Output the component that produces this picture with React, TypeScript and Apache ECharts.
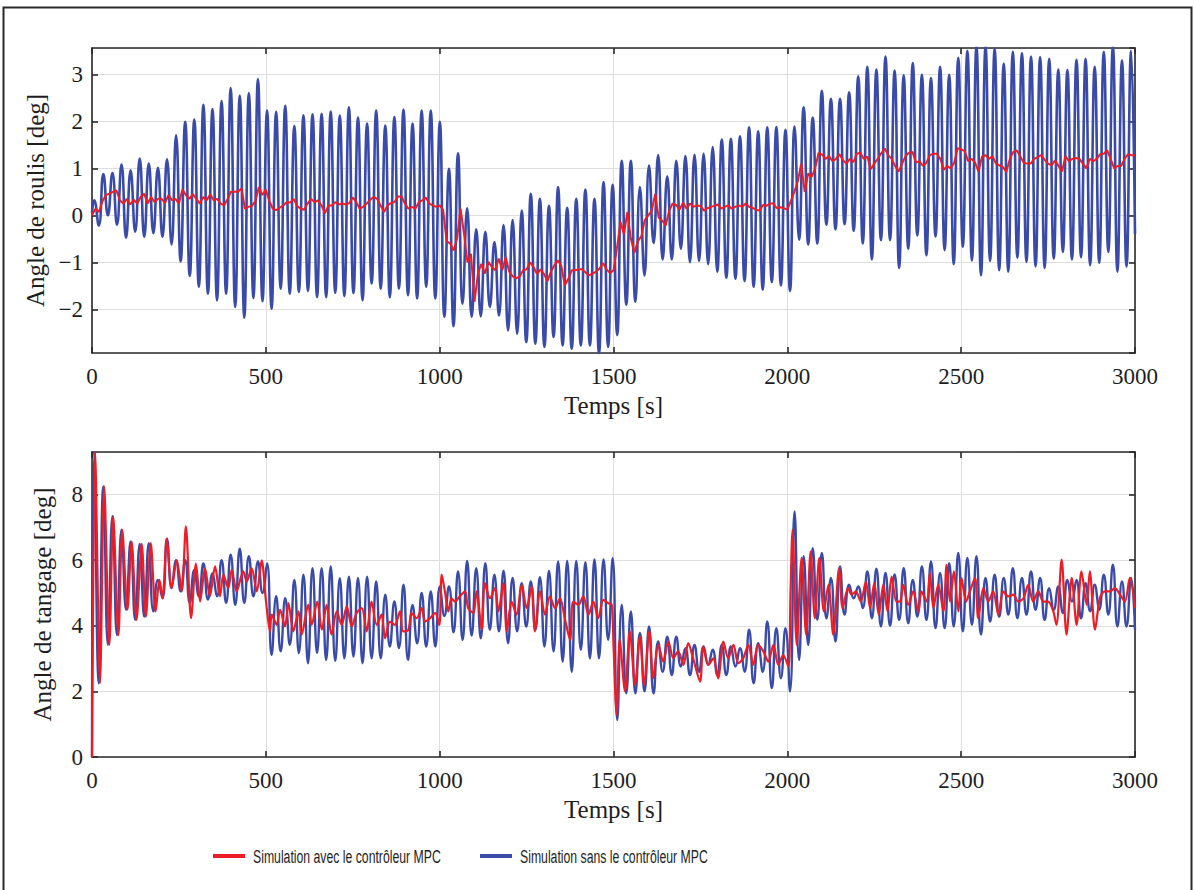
import React, { useEffect, useRef } from "react";
import * as echarts from "echarts";

// ---------- axis ranges / ticks ----------
const TIME_RANGE = [0, 3000];
const TIME_STEP = 500;
const ROLL_RANGE = [-2.93, 3.56];
const PITCH_RANGE = [0, 9.3];
const PITCH_STEP = 2;

const LEGEND_MPC = "Simulation avec le contrôleur MPC";
const LEGEND_NO_MPC = "Simulation sans le contrôleur MPC";

// ---------- roll without MPC: successive extrema (peak, trough, peak, ...) ----------
// extrema are spaced by half an oscillation period
const EXTREMA_HALF_PERIOD = 13.08; // s
const EXTREMA_FIRST_T = 6.44; // s
const rollNoMpcStart = 0.05;
const rollNoMpcEnd = -0.4;
const rollNoMpcExtrema = [
  0.32, -0.22,
  0.88, 0.0, 0.9, -0.2, 1.08, -0.48, 0.96, -0.35, 1.21, -0.46, 1.1, -0.38, 1.01, -0.46,
  1.19, -0.62, 1.7, -0.98, 1.99, -1.29, 2.04, -1.52, 2.35, -1.67, 2.26, -1.81, 2.43, -1.67,
  2.71, -1.95, 2.55, -2.18, 2.6, -1.76, 2.9, -1.83, 2.23, -1.99, 2.2, -1.56, 2.33, -1.67,
  1.9, -1.63, 2.13, -1.61, 2.15, -1.74, 2.16, -1.74, 2.21, -1.65, 2.12, -1.72, 2.3, -1.66,
  2.08, -1.81, 1.95, -1.45, 2.23, -1.56, 1.91, -1.74, 2.09, -1.56, 2.25, -1.7, 1.95, -1.77,
  2.23, -1.52, 2.23, -1.77, 1.99, -2.16, 0.99, -2.36, 1.32, -1.88, 0.15, -2.16, -0.3, -2.15,
  -0.35, -1.95, -0.57, -2.13, -0.21, -2.45, -0.1, -2.52, 0.1, -2.7, 0.46, -2.73, 0.35, -2.8,
  0.2, -2.59, 0.6, -2.77, 0.16, -2.84, 0.35, -2.77, 0.55, -2.77, 0.35, -2.94, 0.71, -2.8,
  0.65, -2.55, 1.16, -1.9, 1.16, -1.84, 0.6, -1.28, 1.06, -0.59, 1.28, -0.94, 0.83, -0.94,
  1.16, -0.71, 1.26, -1.0, 1.29, -0.97, 1.31, -1.04, 1.45, -1.2, 1.61, -1.33, 1.63, -1.35,
  1.68, -1.4, 1.87, -1.52, 1.79, -1.58, 1.87, -1.42, 1.88, -1.49, 1.82, -1.61, 1.89, -0.52,
  2.3, -0.62, 2.08, -0.6, 2.65, -0.2, 2.48, -0.3, 2.48, -0.19, 2.62, -0.33, 2.96, -0.6,
  3.16, -0.94, 3.1, -0.53, 3.38, -0.53, 3.08, -1.12, 2.98, -0.71, 3.24, -0.43, 2.99, -0.85,
  2.92, -0.45, 3.16, -0.74, 2.99, -1.04, 3.35, -0.67, 3.5, -0.96, 3.6, -1.28, 3.6, -0.97,
  3.55, -1.17, 3.23, -1.2, 3.48, -0.9, 3.45, -0.99, 3.38, -1.09, 3.37, -1.12, 3.33, -0.92,
  3.1, -0.78, 3.09, -0.94, 3.31, -0.89, 3.33, -1.06, 3.16, -1.01, 3.48, -0.78, 3.6, -1.2,
  3.3, -1.09, 3.5,
];

// ---------- roll with MPC: one value every 10 s from 0 to 3000 s ----------
const ROLL_MPC_STEP = 10; // s
const rollMpc = [
  0, 0.14, 0.07, 0.3, 0.43, 0.46, 0.5, 0.53, 0.32, 0.25,
  0.35, 0.23, 0.33, 0.25, 0.39, 0.46, 0.25, 0.39, 0.28, 0.35,
  0.35, 0.26, 0.43, 0.32, 0.35, 0.25, 0.55, 0.43, 0.35, 0.45,
  0.35, 0.25, 0.39, 0.32, 0.45, 0.32, 0.35, 0.25, 0.21, 0.35,
  0.5, 0.5, 0.5, 0.57, 0.14, 0.18, 0.2, 0.3, 0.6, 0.43,
  0.55, 0.3, 0.14, 0.11, 0.16, 0.21, 0.28, 0.27, 0.35, 0.2,
  0.14, 0.12, 0.25, 0.35, 0.28, 0.32, 0.21, 0.04, 0.21, 0.21,
  0.28, 0.23, 0.25, 0.23, 0.26, 0.38, 0.28, 0.14,
  0.18, 0.25, 0.33, 0.39, 0.35, 0.21, 0.07, 0.21, 0.26, 0.28,
  0.4, 0.4, 0.25, 0.14, 0.18, 0.14, 0.28, 0.32, 0.38, 0.25,
  0.21, 0.18, 0.21, 0.11, -0.55, -0.6, -0.75, -0.5, 0.14, -0.39,
  -1.0, -0.82, -1.84, -1.24, -1.03, -1.24, -0.99, -1.1, -1.17, -0.92,
  -1.17, -0.89, -1.2, -1.3, -1.34, -1.3, -1.17, -1.15, -1.0, -1.1,
  -1.25, -1.15, -1.25, -1.4, -1.2, -1.06, -0.96, -1.08, -1.49, -1.35,
  -1.17, -1.17, -1.15, -1.15, -1.22, -1.28, -1.24, -1.2, -1.13, -1.02,
  -1.15, -1.23, -1.17, -0.7, -0.14, -0.4, 0.07,
  -0.5, -0.8, -0.55, -0.45, -0.1, 0.0, 0.1, 0.45, -0.05, -0.11,
  -0.22, 0.1, 0.25, 0.22, 0.12, 0.27, 0.14, 0.25, 0.18, 0.21,
  0.2, 0.1, 0.15, 0.18, 0.2, 0.23, 0.14, 0.18, 0.21, 0.14,
  0.18, 0.21, 0.18, 0.25, 0.18, 0.16, 0.12, 0.1, 0.22, 0.2,
  0.25, 0.25, 0.15, 0.17, 0.15, 0.12, 0.3, 0.5, 0.72, 1.1,
  0.5, 0.89, 0.82, 1.0, 1.33, 1.29, 1.2, 1.26, 1.15, 1.2,
  1.3, 1.17, 1.1, 1.2, 1.13, 1.31, 1.33, 1.2, 1.25, 0.98,
  1.1, 1.2, 1.32, 1.42, 1.28, 1.2, 1.05,
  0.93, 1.1, 1.26, 1.33, 1.35, 1.12, 1.15, 1.05, 1.12, 1.28,
  1.31, 1.31, 1.2, 0.97, 1.05, 1.0, 1.12, 1.43, 1.4, 1.37,
  1.15, 1.2, 1.12, 0.93, 1.25, 1.28, 1.2, 1.26, 1.1, 1.06,
  1.03, 0.92, 1.2, 1.35, 1.38, 1.25, 1.12, 1.1, 1.1, 1.2,
  1.24, 1.28, 1.18, 1.1, 1.06, 1.17, 1.05, 0.93, 1.26, 1.15,
  1.2, 1.22, 1.2, 1.1, 1.0, 1.2, 1.15, 1.2, 1.3, 1.31,
  1.38, 1.2, 1.0, 1.05, 1.05, 1.2, 1.3, 1.28, 1.28,
];

// ---------- pitch without MPC: successive extrema (same spacing) ----------
const pitchNoMpcStart = 0;
const pitchNoMpcEnd = 3.88;
const pitchNoMpcExtrema = [
  9.3, 2.25,
  8.25, 3.42, 7.34, 3.72, 6.93, 4.49, 6.57, 4.18, 6.5, 4.28, 6.52, 4.44, 5.4, 4.84,
  6.66, 5.15, 6.0, 5.05, 6.0, 4.7, 5.7, 4.9, 5.9, 4.8, 5.6, 4.9, 6.0, 4.7,
  6.17, 4.64, 6.35, 4.7, 6.12, 4.9, 5.96, 5.0, 5.9, 3.11, 4.9, 3.22, 4.84, 3.42,
  5.4, 3.17, 5.56, 2.86, 5.76, 3.17, 5.76, 2.96, 5.81, 2.93, 5.45, 3.01, 5.5, 3.06,
  5.46, 2.86, 5.5, 3.01, 5.35, 3.01, 4.95, 3.37, 4.74, 3.32, 5.25, 2.96, 4.64, 3.47,
  5.0, 3.37, 5.05, 3.37, 5.2, 4.3, 5.2, 3.8, 5.66, 3.57, 5.98, 3.7, 5.76, 3.62,
  5.91, 3.88, 5.56, 3.83, 5.68, 3.47, 5.46, 3.83, 5.3, 3.98, 5.35, 3.88, 5.48, 3.37,
  5.68, 3.22, 5.96, 2.91, 5.98, 2.6, 5.98, 3.27, 5.94, 3.01, 6.02, 3.01, 6.02, 3.57,
  6.07, 1.13, 4.64, 1.94, 4.44, 1.94, 3.78, 2.0, 3.98, 1.94, 3.52, 2.6, 3.67, 2.5,
  3.67, 2.76, 3.32, 2.5, 3.42, 2.6, 3.37, 2.81, 3.27, 2.5, 3.42, 2.5, 3.37, 2.76,
  3.32, 2.6, 3.88, 2.25, 3.47, 2.6, 4.13, 2.1, 3.93, 2.4, 3.93, 2.0, 7.49, 2.96,
  6.12, 3.42, 6.37, 4.18, 6.22, 4.23, 5.46, 3.52, 5.81, 4.34, 5.25, 4.84, 5.2, 4.54,
  5.66, 4.23, 5.74, 3.98, 5.61, 4.0, 5.57, 4.18, 5.76, 4.08, 5.4, 4.28, 5.81, 4.18,
  5.96, 3.93, 5.61, 3.93, 5.91, 3.98, 6.22, 3.83, 6.07, 4.03, 6.12, 3.73, 5.46, 4.13,
  5.56, 4.28, 5.46, 4.34, 5.76, 4.23, 5.46, 4.34, 5.66, 4.49, 5.46, 4.18, 5.15, 4.49,
  5.2, 4.39, 5.4, 4.74, 5.4, 4.23, 5.3, 4.44, 5.25, 4.49, 5.56, 4.34, 5.86, 3.98,
  5.35, 3.98, 5.46,
];

// ---------- pitch with MPC: [time s, angle deg] ----------
const pitchMpc: [number, number][] = [
  [0, 0], [9, 9.3], [23, 2.25], [35, 8.25], [50, 3.42], [61, 7.34], [76, 3.72], [87, 6.93],
  [102, 4.49], [114, 6.57], [128, 4.18], [143, 6.5], [155, 4.28], [169, 6.52], [183, 4.44],
  [194, 5.4], [203, 4.84], [215, 6.66], [229, 5.15], [244, 6.0], [258, 5.05], [270, 7.03],
  [285, 4.23], [299, 5.9], [311, 4.74], [325, 5.76], [339, 4.9], [354, 5.81], [368, 4.9],
  [378, 5.56], [392, 5.15], [402, 5.71], [416, 5.05], [435, 5.66], [445, 5.35], [459, 5.76],
  [474, 5.05], [488, 6.0], [500, 4.8], [512, 3.83], [517, 4.34], [531, 4.03], [541, 4.49],
  [555, 3.98], [565, 4.69], [579, 3.83], [594, 4.44], [603, 3.73], [622, 4.64], [632, 4.03],
  [648, 4.74], [661, 3.88], [675, 4.64], [689, 3.73], [704, 4.44], [718, 4.03], [733, 4.59],
  [747, 3.98], [761, 4.39], [776, 4.54], [790, 3.83], [804, 4.74], [819, 4.03], [833, 4.34],
  [843, 3.62], [857, 4.13], [871, 4.03], [886, 4.44], [895, 3.83], [910, 3.88], [919, 4.39],
  [934, 4.23], [948, 4.54], [958, 4.13], [972, 4.23], [987, 4.39], [999, 4.03], [1006, 5.56],
  [1015, 5.05], [1025, 4.44], [1034, 4.84], [1044, 4.74], [1058, 4.9], [1073, 5.05],
  [1082, 4.54], [1097, 4.39], [1106, 5.05], [1121, 3.88], [1130, 5.3], [1145, 4.84],
  [1159, 5.15], [1169, 4.44], [1183, 5.3], [1193, 3.83], [1207, 4.74], [1221, 4.34],
  [1236, 5.25], [1250, 4.54], [1265, 5.2], [1274, 3.83], [1289, 5.05], [1303, 4.34],
  [1317, 4.9], [1332, 4.54], [1346, 4.84], [1360, 4.23], [1375, 3.57], [1384, 4.74],
  [1399, 4.64], [1413, 4.9], [1428, 4.34], [1442, 4.74], [1456, 4.23], [1471, 4.79],
  [1485, 4.69], [1495, 4.64], [1500, 3.42], [1509, 1.3], [1518, 3.6], [1533, 2.0],
  [1547, 3.83], [1562, 2.2], [1576, 3.67], [1588, 2.2], [1603, 3.83], [1614, 2.4],
  [1629, 3.42], [1643, 2.91], [1658, 3.52], [1672, 3.01], [1686, 3.22], [1701, 2.81],
  [1715, 3.47], [1729, 3.01], [1749, 2.3], [1758, 3.37], [1773, 2.81], [1787, 3.01],
  [1801, 2.4], [1816, 3.52], [1830, 3.01], [1845, 3.42], [1859, 2.86], [1873, 3.01],
  [1888, 3.42], [1902, 2.81], [1916, 3.42], [1931, 3.22], [1945, 2.91], [1960, 3.42],
  [1974, 2.81], [1988, 3.11], [2003, 2.76], [2009, 4.95], [2015, 6.93], [2027, 3.42],
  [2041, 6.07], [2054, 3.73], [2067, 6.27], [2079, 4.23], [2092, 6.07], [2105, 4.44],
  [2118, 5.25], [2132, 3.73], [2149, 5.76], [2159, 4.54], [2175, 5.15], [2185, 4.95],
  [2197, 5.05], [2211, 4.74], [2226, 5.35], [2238, 4.54], [2250, 5.3], [2263, 4.34],
  [2276, 5.25], [2288, 4.44], [2300, 5.5], [2314, 4.74], [2324, 4.74], [2333, 5.25],
  [2348, 4.64], [2362, 5.05], [2377, 4.44], [2386, 5.05], [2401, 4.74], [2410, 5.61],
  [2420, 4.54], [2434, 5.25], [2449, 4.44], [2458, 5.86], [2468, 4.74], [2479, 5.66],
  [2492, 4.44], [2501, 5.46], [2514, 4.74], [2525, 5.05], [2540, 5.46], [2549, 4.23],
  [2564, 5.15], [2578, 4.74], [2592, 5.05], [2607, 4.34], [2621, 5.05], [2635, 4.9],
  [2650, 4.95], [2664, 4.74], [2679, 4.84], [2693, 5.25], [2707, 4.74], [2722, 5.05],
  [2736, 4.74], [2750, 4.74], [2765, 4.44], [2774, 4.03], [2789, 6.02], [2803, 3.73],
  [2818, 5.46], [2832, 4.03], [2846, 5.66], [2861, 4.64], [2870, 5.66], [2885, 3.88],
  [2899, 4.84], [2913, 5.05], [2928, 5.05], [2942, 5.15], [2957, 4.95], [2971, 4.74],
  [2985, 5.46], [3000, 4.54],
];

// ---------- build series points ----------
function fromExtrema(start: number, extrema: number[], end: number): [number, number][] {
  const pts: [number, number][] = [[TIME_RANGE[0], start]];
  extrema.forEach((v, i) => pts.push([EXTREMA_FIRST_T + i * EXTREMA_HALF_PERIOD, v]));
  pts.push([TIME_RANGE[1], end]);
  return pts;
}
function fromSteps(values: number[], step: number): [number, number][] {
  return values.map((v, i) => [i * step, v]);
}

const rollNoMpcData = fromExtrema(rollNoMpcStart, rollNoMpcExtrema, rollNoMpcEnd);
const rollMpcData = fromSteps(rollMpc, ROLL_MPC_STEP);
const pitchNoMpcData = fromExtrema(pitchNoMpcStart, pitchNoMpcExtrema, pitchNoMpcEnd);

// ---------- styles ----------
const SERIF = "'Liberation Serif', 'Times New Roman', serif";
const SANS = "'Liberation Sans', Arial, sans-serif";
const INK = "#1e1e1e";
const BOX = "#2a2a2a";
const GRIDLINE = "#dedede";
const BLUE = "#3a4aa8";
const RED = "#ee1c25";

const GRID_LEFT = 92;
const GRID_WIDTH = 1043;
const GRID_HEIGHT = 305;
const TOP_GRID_TOP = 48;
const BOTTOM_GRID_TOP = 452;

const minusFmt = (v: number) => String(v).replace("-", "\u2212");

function xAxis(gridIndex: number, bottom: boolean) {
  return {
    type: "value",
    gridIndex,
    position: bottom ? "bottom" : "top",
    min: TIME_RANGE[0],
    max: TIME_RANGE[1],
    interval: TIME_STEP,
    name: bottom ? "Temps [s]" : "",
    nameLocation: "middle",
    nameGap: 40,
    nameTextStyle: { fontFamily: SERIF, fontSize: 25, color: INK },
    axisLine: { show: true, onZero: false, lineStyle: { color: BOX, width: 1.6 } },
    axisTick: { show: true, inside: true, length: 6, lineStyle: { color: BOX, width: 1.6 } },
    axisLabel: {
      show: bottom,
      margin: 12,
      fontFamily: SERIF,
      fontSize: 23,
      color: INK,
      formatter: (v: number) => String(v),
    },
    splitLine: { show: bottom, lineStyle: { color: GRIDLINE, width: 1 } },
  };
}

function yAxis(gridIndex: number, left: boolean, range: number[], step: number, name: string) {
  return {
    type: "value",
    gridIndex,
    position: left ? "left" : "right",
    min: range[0],
    max: range[1],
    minInterval: step,
    maxInterval: step,
    name: left ? name : "",
    nameLocation: "middle",
    nameGap: 37,
    nameTextStyle: { fontFamily: SERIF, fontSize: 25, color: INK },
    axisLine: { show: true, onZero: false, lineStyle: { color: BOX, width: 1.6 } },
    axisTick: { show: true, inside: true, length: 6, lineStyle: { color: BOX, width: 1.6 } },
    axisLabel: {
      show: left,
      margin: 9,
      fontFamily: SERIF,
      fontSize: 23,
      color: INK,
      formatter: minusFmt,
      showMinLabel: range[0] % step === 0,
      showMaxLabel: false,
    },
    splitLine: { show: left, lineStyle: { color: GRIDLINE, width: 1 } },
  };
}

// legend drawn as graphic so that the condensed lettering can be reproduced
const LEGEND_Y = 856;
const legendItems = [
  { name: LEGEND_MPC, color: RED, x: 213 },
  { name: LEGEND_NO_MPC, color: BLUE, x: 480 },
];
const legendGraphics = legendItems.flatMap((it) => [
  {
    type: "rect",
    silent: true,
    shape: { x: it.x, y: LEGEND_Y - 2, width: 32, height: 4 },
    style: { fill: it.color },
  },
  {
    type: "text",
    silent: true,
    x: it.x + 40,
    y: LEGEND_Y,
    scaleX: 0.645,
    style: {
      text: it.name,
      fontFamily: SANS,
      fontSize: 19,
      fill: INK,
      textVerticalAlign: "middle",
      verticalAlign: "middle",
    },
  },
]);

const option: any = {
  animation: false,
  backgroundColor: "#ffffff",
  grid: [
    { left: GRID_LEFT, top: TOP_GRID_TOP, width: GRID_WIDTH, height: GRID_HEIGHT },
    { left: GRID_LEFT, top: BOTTOM_GRID_TOP, width: GRID_WIDTH, height: GRID_HEIGHT },
  ],
  xAxis: [xAxis(0, true), xAxis(0, false), xAxis(1, true), xAxis(1, false)],
  yAxis: [
    yAxis(0, true, ROLL_RANGE, 1, "Angle de roulis [deg]"),
    yAxis(0, false, ROLL_RANGE, 1, ""),
    yAxis(1, true, PITCH_RANGE, PITCH_STEP, "Angle de tangage [deg]"),
    yAxis(1, false, PITCH_RANGE, PITCH_STEP, ""),
  ],
  graphic: [
    {
      type: "rect",
      silent: true,
      shape: { x: 3.5, y: 7.5, width: 1188, height: 900 },
      style: { fill: "none", stroke: "#2a2a2a", lineWidth: 2 },
    },
    ...legendGraphics,
  ],
  series: [
    {
      name: LEGEND_NO_MPC,
      type: "line",
      xAxisIndex: 0,
      yAxisIndex: 0,
      data: rollNoMpcData,
      smooth: 0.5,
      showSymbol: false,
      lineStyle: { color: BLUE, width: 2.6 },
      itemStyle: { color: BLUE },
    },
    {
      name: LEGEND_MPC,
      type: "line",
      xAxisIndex: 0,
      yAxisIndex: 0,
      data: rollMpcData,
      showSymbol: false,
      lineStyle: { color: RED, width: 2 },
      itemStyle: { color: RED },
    },
    {
      name: LEGEND_NO_MPC,
      type: "line",
      xAxisIndex: 2,
      yAxisIndex: 2,
      data: pitchNoMpcData,
      smooth: 0.5,
      showSymbol: false,
      lineStyle: { color: BLUE, width: 2.4 },
      itemStyle: { color: BLUE },
    },
    {
      name: LEGEND_MPC,
      type: "line",
      xAxisIndex: 2,
      yAxisIndex: 2,
      data: pitchMpc,
      smooth: 0.3,
      showSymbol: false,
      lineStyle: { color: RED, width: 2.2 },
      itemStyle: { color: RED },
    },
  ],
};

export default function App() {
  const ref = useRef<HTMLDivElement>(null);
  useEffect(() => {
    document.body.style.margin = "0";
    const chart = echarts.init(ref.current!, null, { renderer: "svg" });
    chart.setOption(option);
    return () => chart.dispose();
  }, []);
  return <div ref={ref} style={{ width: 1194, height: 890 }} />;
}
